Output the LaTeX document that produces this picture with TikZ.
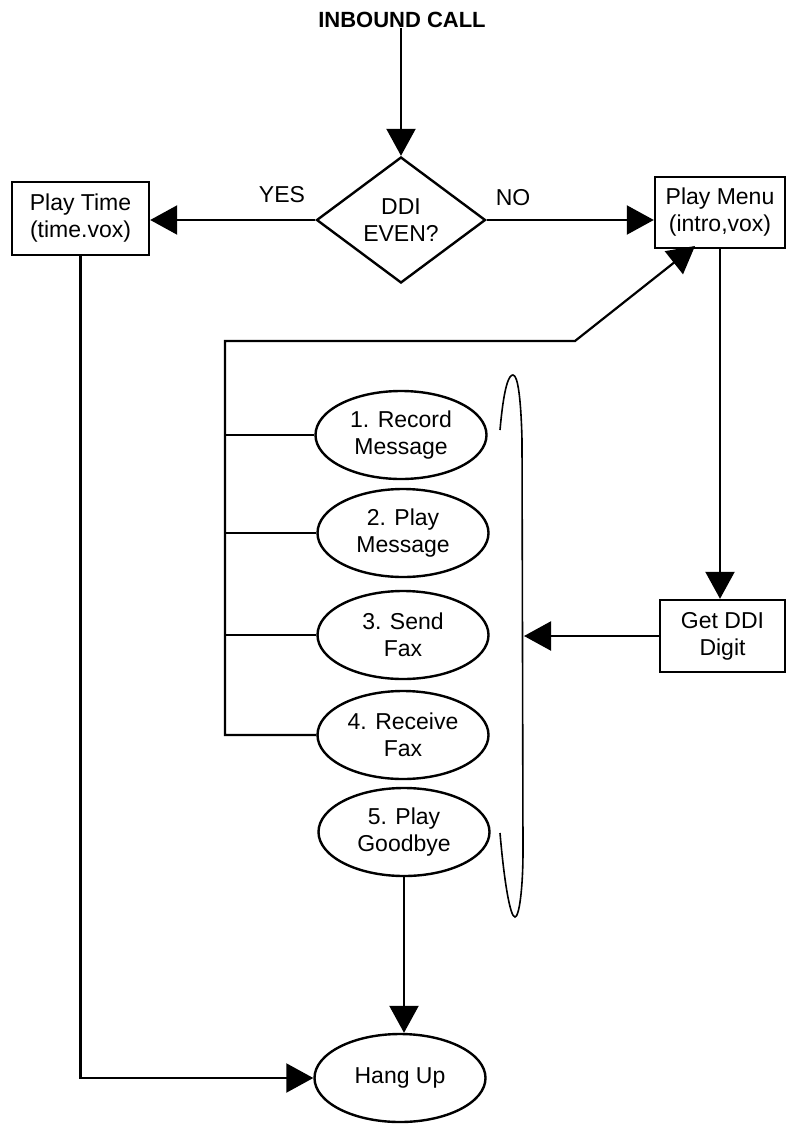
\documentclass[tikz,border=0pt]{standalone}
\usepackage{fontspec}
\setmainfont{Liberation Sans}
\usetikzlibrary{arrows.meta,shapes.geometric,calc}
\begin{document}
\begin{tikzpicture}[x=1pt,y=-1pt,
  every node/.style={font=\fontsize{23}{27}\selectfont, align=center, inner sep=0pt},
  box/.style={draw, rectangle, line width=2.4pt},
  oval/.style={draw, ellipse, line width=2.4pt, minimum width=171pt, minimum height=88pt},
  decision/.style={draw, diamond, aspect=1.34, line width=2.4pt, minimum width=169pt, minimum height=126pt},
  flow/.style={line width=2.2pt, -{Triangle[length=27pt,width=29pt]}},
  link/.style={line width=2.2pt}]
\useasboundingbox (0,0) rectangle (788,1124);

% title and decision
\node[font=\bfseries\fontsize{22}{26}\selectfont] (start) at (402,20) {INBOUND CALL};
\node[decision] (dia) at (401,220) {DDI\\EVEN?};

% process boxes
\node[box, minimum width=137pt, minimum height=73pt] (pt) at (80.5,218.5) {Play Time\\(time.vox)};
\node[box, minimum width=130pt, minimum height=71pt] (pm) at (720,212.5) {Play Menu\\(intro,vox)};
\node[box, minimum width=125pt, minimum height=72pt] (gd) at (722.5,636) {Get DDI\\Digit};

% menu options
\node[oval] (e1) at (401,435) {1. Record\\Message};
\node[oval] (e2) at (403,533) {2. Play\\Message};
\node[oval] (e3) at (403,635) {3. Send\\Fax};
\node[oval] (e4) at (403,735) {4. Receive\\Fax};
\node[oval] (e5) at (404,832) {5. Play\\Goodbye};
\node[oval] (hang) at (400,1078) {Hang Up};

% branch labels
\node (yes) at (282,195) {YES};
\node (no) at (513,198) {NO};

% bracket grouping the options
\draw[line width=1.6pt] (500,430) .. controls (504,385) and (509,375) .. (513,375)
  .. controls (518,375) and (521,400) .. (522,440) -- (523,850)
  .. controls (523,890) and (519,917) .. (515,917)
  .. controls (510,917) and (504,880) .. (500,833);

% helper points
\coordinate (corner) at (225,341);
\coordinate (bend) at (575,341);
\coordinate (tip) at (695,246);
\coordinate (br) at (524,636);

% connectors
\draw[flow] (dia.north |- start.south) -- (dia.north);
\draw[flow] (dia.west) -- (dia.west -| pt.east);
\draw[flow] (dia.east) -- (dia.east -| pm.west);
\draw[flow] (pm.south) -- (pm.south |- gd.north);
\draw[flow] (gd.west) -- (br);
\draw[flow, line join=miter] (e4.west) -| (corner) -- (bend) -- (tip);
\foreach \e in {e1,e2,e3} \draw[link] (\e.west) -- (\e.west -| corner);
\draw[flow] (e5.south) -- (e5.south |- hang.north);
\draw[flow] (pt.south) |- (hang.west);
\end{tikzpicture}
\end{document}
